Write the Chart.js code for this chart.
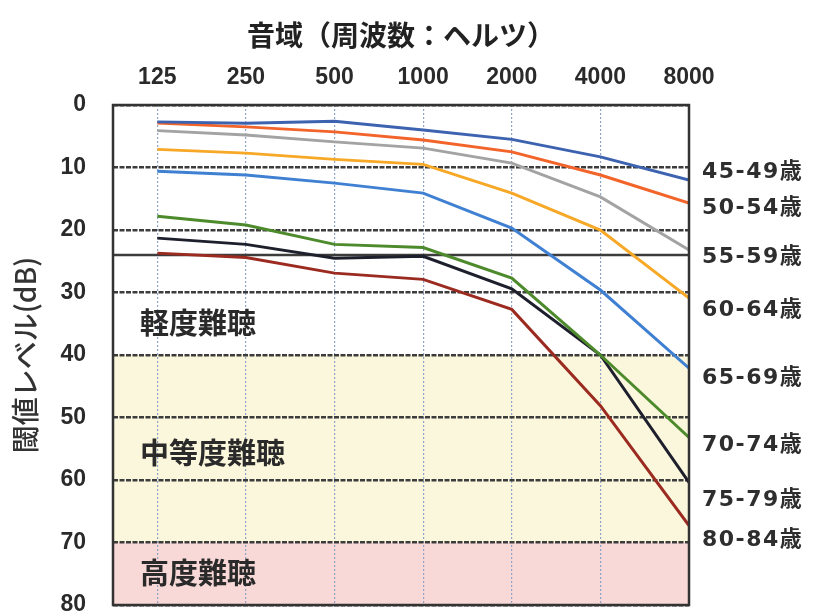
<!DOCTYPE html>
<html>
<head>
<meta charset="utf-8">
<script src="https://cdn.jsdelivr.net/npm/chart.js@4.4.1/dist/chart.umd.min.js"></script>
<style>
  html, body { margin: 0; padding: 0; background: #ffffff; }
  #wrap { width: 817px; height: 613px; }
</style>
</head>
<body>
<div id="wrap"><canvas id="c" width="817" height="613"></canvas></div>
<script>
// ---- data ----
const categories = ['125', '250', '500', '1000', '2000', '4000', '8000'];
const ageGroups = ['45-49歳', '50-54歳', '55-59歳', '60-64歳', '65-69歳', '70-74歳', '75-79歳', '80-84歳'];
const age4549 = [2.7, 2.9, 2.6, 4.0, 5.5, 8.3, 12.0];
const age5054 = [2.9, 3.5, 4.3, 5.6, 7.5, 11.2, 15.7];
const age5559 = [4.1, 4.8, 5.9, 6.9, 9.3, 14.7, 23.2];
const age6064 = [7.1, 7.7, 8.7, 9.5, 14.1, 20.0, 30.9];
const age6569 = [10.6, 11.2, 12.5, 14.1, 19.7, 29.6, 42.1];
const age7074 = [17.8, 19.2, 22.3, 22.8, 27.7, 40.0, 53.2];
const age7579 = [21.3, 22.3, 24.5, 24.2, 29.4, 40.0, 60.4];
const age8084 = [23.7, 24.4, 26.9, 27.9, 32.7, 48.1, 67.3];
const yTicks = [0, 10, 20, 30, 40, 50, 60, 70, 80];
const zoneNames = ['軽度難聴', '中等度難聴', '高度難聴'];
const zoneLimits = [24, 40, 70, 80];   // dB boundaries: mild 24-40, moderate 40-70, severe 70-80

const seriesValues = [age4549, age5054, age5559, age6064, age6569, age7074, age7579, age8084];
const seriesColors = ['#3d63b0', '#f2642a', '#a3a3a3', '#f6a826', '#3f80d2', '#4d8a2c', '#1e1f2c', '#9b2b20'];

// label positions (dB) for the age labels on the right and zone labels
const ageLabelAt = [10.7, 16.5, 24.4, 32.9, 43.7, 54.5, 63.3, 69.7];
const zoneLabelAt = [34.8, 55.6, 74.8];

const CJK = '"Noto Sans CJK JP", "Noto Sans", sans-serif';

const decorPlugin = {
  id: 'decor',
  beforeDraw(chart) {
    const { ctx, chartArea: a, scales: { y } } = chart;
    ctx.save();
    ctx.fillStyle = '#ffffff';
    ctx.fillRect(a.left, a.top, a.right - a.left, a.bottom - a.top);
    const y40 = y.getPixelForValue(zoneLimits[1]);
    const y70 = y.getPixelForValue(zoneLimits[2]);
    const y80 = y.getPixelForValue(zoneLimits[3]);
    ctx.fillStyle = '#fbf7dc';
    ctx.fillRect(a.left, y40, a.right - a.left, y70 - y40);
    ctx.fillStyle = '#f8d9d7';
    ctx.fillRect(a.left, y70, a.right - a.left, y80 - y70);
    ctx.restore();
  },
  beforeDatasetsDraw(chart) {
    const { ctx, chartArea: a, scales: { y } } = chart;
    ctx.save();
    const y24 = y.getPixelForValue(zoneLimits[0]);
    ctx.strokeStyle = '#3c3c3c';
    ctx.lineWidth = 2.5;
    ctx.beginPath();
    ctx.moveTo(a.left, y24);
    ctx.lineTo(a.right, y24);
    ctx.stroke();
    ctx.fillStyle = '#2a2a2a';
    ctx.font = 'bold 29px ' + CJK;
    ctx.textAlign = 'left';
    ctx.textBaseline = 'middle';
    zoneNames.forEach((t, i) => {
      ctx.fillText(t, a.left + 27, y.getPixelForValue(zoneLabelAt[i]));
    });
    ctx.restore();
  },
  afterDatasetsDraw(chart) {
    const { ctx, chartArea: a, scales: { y } } = chart;
    ctx.save();
    ctx.strokeStyle = '#333333';
    ctx.lineWidth = 2.5;
    ctx.strokeRect(a.left, a.top, a.right - a.left, a.bottom - a.top);
    ctx.fillStyle = '#2e2e2e';
    ctx.font = '600 22px "DejaVu Sans", ' + CJK;
    try { ctx.letterSpacing = '1.5px'; } catch (e) {}
    ctx.textAlign = 'left';
    ctx.textBaseline = 'middle';
    ageGroups.forEach((t, i) => {
      ctx.fillText(t, a.right + 13, y.getPixelForValue(ageLabelAt[i]));
    });
    ctx.restore();
  }
};

const datasets = ageGroups.map((name, i) => ({
  label: name,
  data: seriesValues[i].map((v, j) => ({ x: j, y: v })),
  borderColor: seriesColors[i],
  backgroundColor: seriesColors[i],
  borderWidth: 3,
  pointRadius: 0,
  tension: 0,
  fill: false
}));

function noPad(s) {
  s.paddingTop = 0; s.paddingBottom = 0; s.paddingLeft = 0; s.paddingRight = 0;
}

new Chart(document.getElementById('c'), {
  type: 'line',
  data: { datasets },
  options: {
    responsive: false,
    animation: false,
    layout: { padding: { left: 0, right: 128, top: 0, bottom: 8 } },
    plugins: { legend: { display: false }, tooltip: { enabled: false } },
    scales: {
      x: {
        type: 'linear',
        position: 'top',
        min: -0.5,
        max: categories.length - 1,
        afterBuildTicks: (s) => { s.ticks = categories.map((c, i) => ({ value: i })); },
        afterFit: (s) => { s.height = 105; noPad(s); },
        ticks: {
          callback: (v) => categories[v],
          color: '#2a2a2a',
          font: { family: '"Liberation Sans", Arial, sans-serif', size: 23, weight: 'bold' },
          padding: 14,
          maxRotation: 0,
          autoSkip: false
        },
        grid: { color: '#8fa3c6', lineWidth: 1.2, drawTicks: false },
        border: { display: false, dash: [2, 2] },
        title: {
          display: true,
          text: '音域（周波数：ヘルツ）',
          color: '#222222',
          font: { family: CJK, size: 28, weight: 'bold' },
          padding: { top: 19, bottom: 0 }
        }
      },
      y: {
        type: 'linear',
        reverse: true,
        min: 0,
        max: 80,
        afterBuildTicks: (s) => { s.ticks = yTicks.map(v => ({ value: v })); },
        afterFit: (s) => { s.width = 113; noPad(s); },
        ticks: {
          color: '#2a2a2a',
          font: { family: '"Liberation Sans", Arial, sans-serif', size: 23, weight: 'bold' },
          padding: 27
        },
        grid: { color: '#3c3c3c', lineWidth: 2.5, drawTicks: false },
        border: { display: false, dash: [5, 1.5] },
        title: {
          display: true,
          text: '閾値レベル(dB)',
          color: '#333333',
          font: { family: CJK, size: 28, weight: '500' },
          padding: { top: 9, bottom: 0 }
        }
      }
    }
  },
  plugins: [decorPlugin]
});
</script>
</body>
</html>
